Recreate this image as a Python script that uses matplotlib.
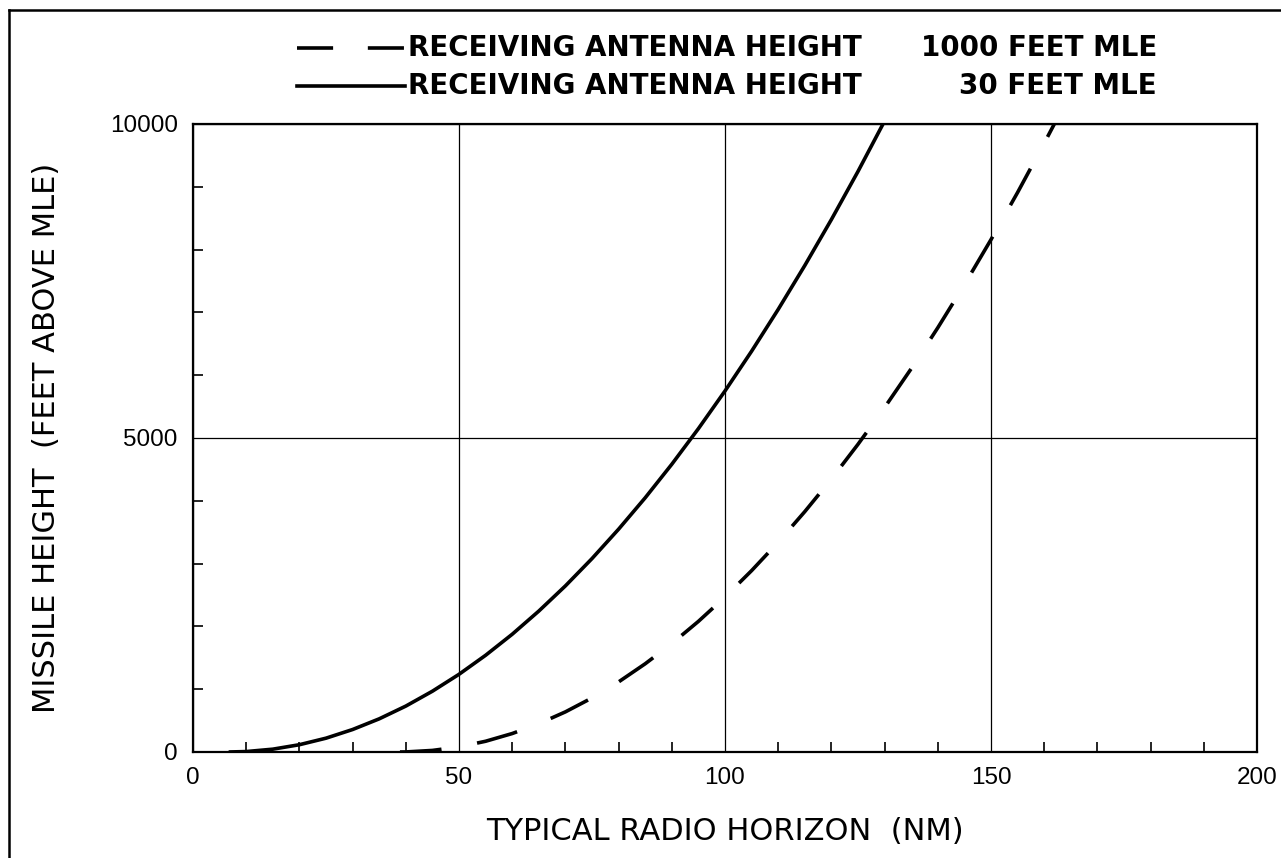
import matplotlib
matplotlib.use("Agg")
import matplotlib.pyplot as plt
from matplotlib.lines import Line2D
from matplotlib.ticker import MultipleLocator

# ---------------- DATA ----------------
# Receiving antenna 30 ft MLE (solid)
horizon_30 = [6.7, 10, 15, 20, 25, 30, 35, 40, 45, 50, 55, 60, 65, 70, 75,
              80, 85, 90, 95, 100, 105, 110, 115, 120, 125, 129.7]
height_30 = [0, 7, 45, 116, 220, 358, 528, 731, 968, 1237, 1540, 1875, 2244,
             2645, 3080, 3548, 4048, 4582, 5149, 5749, 6382, 7048, 7747,
             8479, 9245, 10000]

# Receiving antenna 1000 ft MLE (dashed)
horizon_1000 = [38.9, 40, 45, 50, 55, 60, 65, 70, 75, 80, 85, 90, 95, 100,
                105, 110, 115, 120, 125, 130, 135, 140, 145, 150, 155, 160,
                161.9]
height_1000 = [0, 1, 25, 81, 171, 294, 450, 639, 861, 1116, 1405, 1726, 2080,
               2468, 2888, 3341, 3828, 4347, 4900, 5486, 6104, 6756, 7441,
               8159, 8910, 9694, 10000]

legend_labels = ["RECEIVING ANTENNA HEIGHT", "RECEIVING ANTENNA HEIGHT"]
legend_values = ["1000 FEET MLE", "30 FEET MLE"]

x_label = "TYPICAL RADIO HORIZON  (NM)"
y_label = "MISSILE HEIGHT  (FEET ABOVE MLE)"

W, H = 1281, 858
plt.rcParams["lines.scale_dashes"] = False

fig = plt.figure(figsize=(W / 100, H / 100), dpi=100)
ax = fig.add_axes([193 / W, 1 - 752 / H, 1064 / W, 628 / H])

dash = (0, (30, 26))
ax.plot(horizon_30, height_30, color="black", lw=2.6, solid_capstyle="butt")
ax.plot(horizon_1000, height_1000, color="black", lw=2.6, linestyle=dash)

ax.set_xlim(0, 200)
ax.set_ylim(0, 10000)
ax.xaxis.set_major_locator(MultipleLocator(50))
ax.yaxis.set_major_locator(MultipleLocator(5000))
ax.xaxis.set_minor_locator(MultipleLocator(10))
ax.yaxis.set_minor_locator(MultipleLocator(1000))
ax.tick_params(which="major", length=0, pad=11, labelsize=17.5)
ax.tick_params(axis="y", which="major", pad=11)
ax.tick_params(which="minor", direction="in", length=7, width=1.2)
for lab in ax.get_xticklabels() + ax.get_yticklabels():
    lab.set_family("Liberation Sans")
ax.grid(True, which="major", color="black", lw=0.9)
for s in ax.spines.values():
    s.set_linewidth(1.6)

ax.set_xlabel(x_label, fontsize=22, labelpad=20, family="DejaVu Sans")
ax.set_ylabel(y_label, fontsize=22, labelpad=35, family="DejaVu Sans")

# ---------------- LEGEND ----------------
rows_y = [1 - 48 / H, 1 - 86 / H]
styles = [(0, (26, 25)), "-"]
for yy, st, lab, val in zip(rows_y, styles, legend_labels, legend_values):
    fig.add_artist(Line2D([297 / W, 405 / W], [yy, yy], color="black",
                          lw=2.6, linestyle=st, transform=fig.transFigure))
    fig.text(408 / W, yy, lab, ha="left", va="center", fontsize=20,
             fontweight="bold", family="DejaVu Sans")
    fig.text(1157 / W, yy, val, ha="right", va="center", fontsize=20,
             fontweight="bold", family="DejaVu Sans")

# page frame (top and left edges visible)
fig.add_artist(Line2D([9 / W, 1], [1 - 10 / H, 1 - 10 / H], color="black",
                      lw=1.8, transform=fig.transFigure))
fig.add_artist(Line2D([9 / W, 9 / W], [0, 1 - 10 / H], color="black",
                      lw=1.8, transform=fig.transFigure))

fig.savefig("out.png", dpi=100)
